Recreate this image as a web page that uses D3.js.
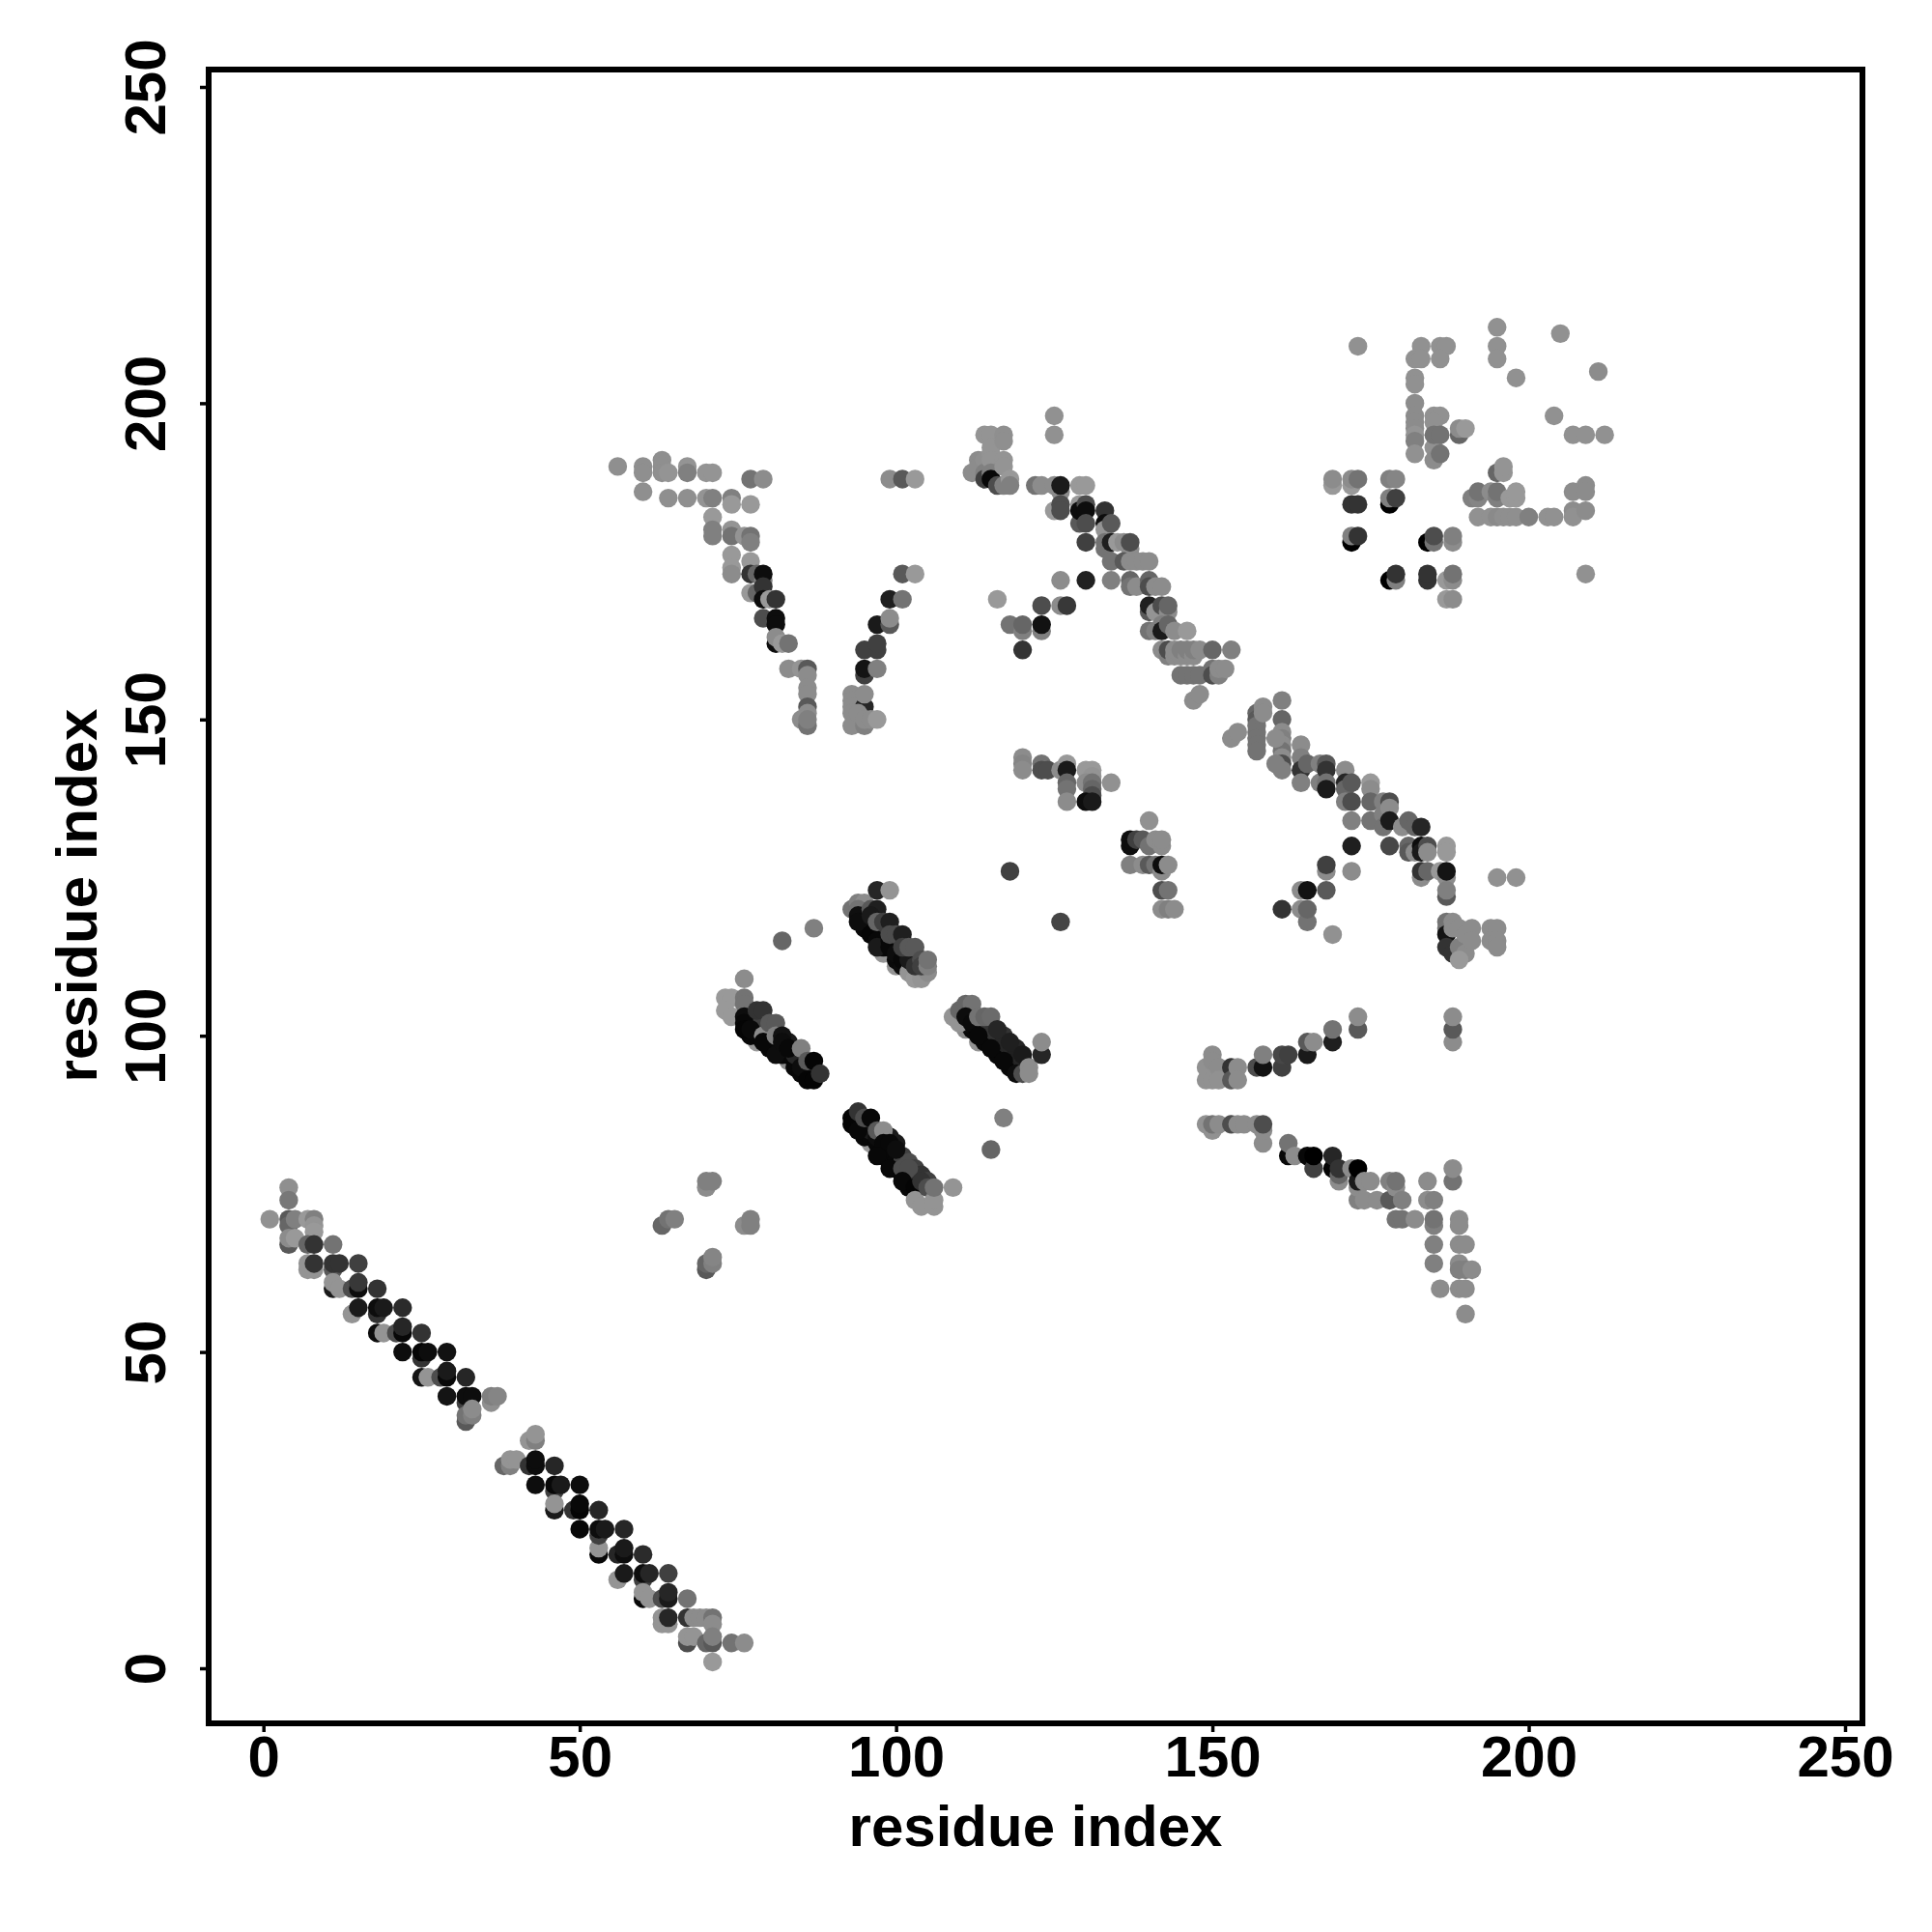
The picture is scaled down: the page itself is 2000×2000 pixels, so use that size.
<!DOCTYPE html>
<html><head><meta charset="utf-8">
<script src="https://cdn.jsdelivr.net/npm/d3@7"></script>
<style>html,body{margin:0;background:#fff}svg{display:block}text{font-family:"Liberation Sans",Arial,sans-serif;font-weight:700;fill:#000}</style>
</head><body><svg id="c" width="2000" height="2000"></svg>
<script>
const xTicks=[0,50,100,150,200,250], yTicks=[0,50,100,150,200,250];
// contact triples: [residue x, residue y, shade 0=black..1=white]
const helixA=[[1,71,.57],[4,76,.56],[4,74,.47],[4,71,.35],[4,70,.4],[4,67,.35],[4,68,.55],[5,71,.5],[5,68,.6],[7,71,.6],[8,71,.5],[8,70,.58],[8,69,.6],[7,67,.4],[8,67,.2],[11,67,.45],[7,64,.58],[7,63,.58],[8,63,.58],[8,64,.2],[11,63,.35],[11,64,.2],[12,64,.2],[15,64,.25],[11,60,.1],[11,61,.58],[12,60,.58],[14,60,.3],[15,60,.05],[15,61,.22],[18,60,.2],[14,56,.58],[15,57,.1],[18,56,.2],[18,57,.05],[19,57,.1],[22,57,.17],[18,53,.05],[19,53,.58],[21,53,.3],[22,53,.03],[22,54,.15],[25,53,.2],[22,50,.05],[25,49,.2],[25,50,.02],[26,50,.05],[29,50,.07],[25,46,.08],[26,46,.58],[28,46,.3],[29,46,.03],[29,47,.1],[32,46,.15],[29,43,.08],[32,42,.25],[32,43,.05],[33,43,.05],[36,42,.56],[36,43,.5],[37,43,.52],[32,39,.35],[32,40,.45],[33,40,.5],[33,41,.55]];
const helixB=[[38,32,.4],[39,32,.5],[39,33,.58],[40,33,.58],[42,36,.58],[43,36,.5],[43,37,.58],[42,32,.2],[43,32,.05],[43,33,.05],[43,29,.05],[46,28,.25],[46,29,.03],[47,29,.1],[46,32,.15],[46,25,.1],[46,26,.58],[49,25,.2],[50,25,.02],[50,26,.03],[50,29,.05],[50,22,.03],[53,25,.15],[53,18,.03],[53,19,.58],[53,21,.25],[53,22,.05],[54,22,.1],[57,22,.15],[56,18,.15],[57,18,.05],[57,19,.1],[60,18,.17],[56,14,.58],[57,15,.1],[60,14,.25],[60,15,.05],[61,15,.15],[64,15,.25],[60,11,.03],[60,12,.58],[61,11,.58],[63,11,.3],[64,11,.1],[64,12,.15],[67,11,.45],[63,7,.58],[63,8,.58],[64,7,.58],[64,8,.15],[67,4,.3],[67,5,.58],[68,5,.58],[67,8,.2],[68,8,.55],[69,8,.55],[70,8,.55],[71,8,.45],[71,7,.55],[70,4,.4],[71,4,.35],[71,5,.5],[74,4,.45],[76,4,.55],[71,1,.6]];
const islets=[[63,70,.4],[64,71,.45],[65,71,.5],[70,76,.55],[70,77,.5],[71,77,.5],[76,70,.55],[77,71,.5],[77,70,.5],[70,63,.35],[70,64,.4],[71,64,.5],[71,65,.52],[82,115,.4],[87,117,.5],[109,76,.58],[115,82,.4],[117,87,.5],[118,126,.25],[126,118,.27]];
const bandUpperCore=[[98,113,.58],[100,111,.58],[95,118,.03],[95,117,.03],[96,118,.03],[97,116,.03],[98,115,.03],[98,114,.03],[100,114,.03],[101,113,.03],[102,111,.05],[100,112,.04],[101,111,.05],[97,117,.2],[98,117,.2],[99,117,.18],[100,115,.2],[101,115,.2],[102,113,.25],[103,113,.25],[103,112,.25]];
const bandUpper=[[93,120,.45],[94,121,.5],[95,121,.55],[94,120,.45],[94,119,.06],[94,118,.05],[96,116,.02],[97,115,.03],[97,114,.1],[99,116,.03],[99,115,.03],[99,114,.03],[100,113,.05],[101,112,.03],[102,110,.58],[103,109,.6],[104,109,.58],[102,112,.1],[103,111,.2],[105,110,.55],[97,123,.15],[99,123,.58],[96,120,.35],[97,120,.12],[96,119,.1],[97,118,.4],[98,118,.25],[99,118,.12],[99,116,.3],[100,116,.3],[101,116,.12],[101,114,.25],[102,114,.35],[103,114,.35],[104,112,.3],[104,111,.25],[105,111,.5],[105,112,.45]];
const bandLeftCore=[[78,99,.6],[83,96,.55],[77,100,.03],[78,100,.03],[78,101,.03],[80,99,.03],[80,98,.03],[81,98,.03],[82,97,.03],[83,97,.03],[84,96,.03],[84,95,.03],[85,94,.03],[86,94,.03],[77,102,.2],[78,102,.25],[79,102,.25],[80,100,.2],[83,99,.1],[84,97,.15],[86,95,.1]];
const bandLeft=[[76,109,.55],[73,106,.6],[74,106,.6],[73,104,.6],[74,103,.6],[76,106,.45],[76,105,.45],[76,103,.05],[76,102,.03],[76,101,.02],[77,101,.04],[78,104,.2],[79,104,.2],[79,100,.55],[79,99,.03],[80,102,.35],[81,102,.35],[81,100,.5],[81,97,.05],[82,100,.07],[82,99,.05],[83,98,.03],[85,98,.5],[85,95,.05],[86,96,.35],[86,93,.02],[87,93,.02],[87,96,.02],[88,94,.2]];
const bandRightCore=[[113,99,.58],[111,101,.55],[112,101,.03],[113,101,.03],[114,100,.03],[114,99,.03],[115,99,.03],[116,98,.03],[116,97,.03],[117,97,.03],[118,96,.03],[118,95,.03],[119,95,.03],[111,102,.05],[112,103,.3],[113,102,.25],[114,102,.25],[115,101,.2],[116,100,.2],[117,100,.2],[117,99,.15],[118,98,.15],[119,98,.15],[119,97,.12],[120,96,.15],[120,95,.15]];
const bandRight=[[109,103,.58],[110,102,.58],[110,104,.4],[111,105,.4],[112,105,.45],[111,103,.05],[112,102,.04],[113,100,.03],[113,103,.45],[114,103,.4],[115,103,.42],[115,98,.03],[116,101,.15],[117,96,.03],[118,99,.12],[119,94,.05],[120,97,.1],[120,94,.3],[121,95,.55],[121,94,.55],[123,97,.15],[123,99,.55]];
const bandLowerCore=[[96,83,.6],[99,80,.55],[94,86,.03],[95,85,.03],[95,84,.03],[96,84,.03],[96,85,.1],[97,83,.03],[97,84,.05],[98,82,.03],[98,81,.03],[99,81,.03],[100,80,.03],[100,79,.03],[101,78,.03],[102,77,.03],[102,76,.03],[98,84,.1],[99,84,.1],[100,83,.1],[101,81,.25],[101,80,.25],[102,80,.3],[103,78,.2],[103,79,.25],[104,78,.2],[105,77,.25]];
const bandLower=[[93,87,.02],[93,86,.02],[94,88,.2],[94,85,.03],[95,87,.3],[96,87,.03],[97,85,.35],[98,85,.55],[98,83,.03],[99,83,.03],[97,81,.03],[100,82,.05],[99,79,.03],[101,79,.3],[102,79,.3],[101,77,.03],[103,76,.02],[103,74,.58],[104,77,.2],[104,73,.58],[105,76,.3],[106,73,.58],[106,74,.58],[106,76,.45]];
const loopV=[[56,190,.56],[60,190,.56],[60,189,.56],[60,186,.56],[63,191,.56],[63,190,.56],[63,189,.56],[64,189,.58],[64,185,.56],[67,190,.58],[67,189,.5],[67,185,.56],[70,189,.58],[71,189,.58],[70,185,.58],[71,185,.5],[74,185,.5],[74,184,.6],[77,188,.45],[79,188,.55],[77,184,.6],[71,182,.6],[71,180,.5],[71,179,.5],[74,180,.58],[74,179,.45],[76,179,.58],[77,179,.45],[77,178,.5],[74,176,.6],[74,174,.6],[74,173,.55],[77,175,.6],[77,173,.2],[78,173,.4],[79,172,.5],[79,173,.05],[77,170,.6],[78,170,.4],[79,171,.2],[79,169,.05],[80,169,.6],[81,169,.2],[79,166,.3],[81,166,.05],[81,165,.05],[81,162,.05],[81,163,.55],[82,162,.6],[83,162,.45],[83,158,.55],[85,158,.58],[86,158,.35],[86,157,.55],[86,155,.55],[86,154,.55],[86,152,.35],[86,151,.55],[85,150,.55],[86,149,.45],[86,150,.5],[99,188,.55],[101,188,.35],[103,188,.6],[101,173,.35],[103,173,.6],[99,169,.12],[101,169,.45],[97,165,.1],[99,165,.35],[99,166,.55],[95,161,.25],[97,161,.25],[97,162,.25],[95,157,.25],[95,158,.08],[97,158,.5],[93,154,.55],[93,153,.55],[93,152,.55],[93,151,.55],[93,149,.55],[95,152,.15],[95,154,.55],[94,151,.55],[95,149,.5],[95,150,.55],[96,150,.55],[97,150,.6]];
const crest=[[112,189,.55],[113,191,.55],[113,190,.55],[114,195,.58],[114,191,.56],[114,189,.5],[114,188,.25],[115,195,.58],[115,193,.58],[115,192,.58],[115,191,.58],[115,189,.5],[115,188,.03],[116,187,.3],[117,195,.56],[117,194,.56],[117,191,.58],[117,190,.58],[117,187,.5],[118,188,.6],[118,187,.5],[122,187,.45],[123,187,.55],[125,198,.57],[125,195,.57],[125,187,.55],[126,186,.55],[126,187,.1],[129,187,.6],[130,187,.6],[125,183,.6],[126,184,.3],[126,183,.3],[129,184,.6],[129,181,.35],[129,183,.05],[130,184,.3],[130,183,.05],[130,181,.3],[130,178,.25],[133,183,.2],[133,181,.05],[133,180,.58],[134,181,.35],[133,178,.45],[133,177,.45],[134,178,.12],[135,178,.6],[136,178,.55],[137,177,.55],[137,178,.3],[134,175,.45],[136,175,.35],[137,175,.55],[138,175,.55],[139,175,.55],[140,175,.55],[126,172,.55],[130,172,.13],[134,172,.5],[137,172,.4],[137,171,.45],[138,171,.55],[140,172,.4],[140,171,.3],[141,171,.55],[142,171,.55],[116,169,.6],[123,168,.3],[126,168,.55],[127,168,.22],[118,165,.45],[120,164,.5],[120,165,.4],[123,164,.5],[123,165,.07],[120,161,.2],[140,167,.35],[140,168,.12],[141,167,.58],[142,168,.3],[143,167,.55],[143,168,.4],[140,164,.45],[141,164,.5],[142,165,.5],[142,164,.1],[143,165,.4],[144,164,.55],[146,164,.6],[142,161,.55],[143,160,.5],[143,161,.3],[144,160,.55],[144,161,.55],[145,160,.55],[145,161,.5],[146,160,.55],[146,161,.5],[147,160,.55],[147,161,.5],[148,161,.55],[150,161,.4],[153,161,.5],[145,157,.45],[146,157,.45],[147,157,.45],[148,157,.45],[150,158,.45],[150,157,.3],[151,157,.5],[151,158,.55],[152,158,.55],[147,153,.55],[148,154,.55],[153,147,.55],[154,148,.55]];
const centre=[[120,144,.55],[120,143,.52],[120,142,.55],[123,143,.45],[123,142,.3],[124,142,.3],[126,142,.55],[127,143,.6],[127,142,.1],[127,140,.4],[127,139,.45],[127,137,.55],[130,142,.6],[131,142,.6],[131,141,.58],[130,140,.55],[131,140,.45],[131,139,.4],[131,138,.3],[130,137,.05],[131,137,.1],[134,140,.57],[140,134,.57],[137,130,.05],[137,131,.05],[138,131,.25],[139,131,.35],[140,130,.45],[141,131,.55],[142,130,.55],[142,131,.55],[137,127,.5],[139,127,.55],[140,127,.35],[141,127,.45],[142,126,.55],[142,127,.05],[143,127,.55],[142,123,.3],[143,123,.45],[142,120,.55],[143,120,.5],[144,120,.55]];
const strandLong=[[157,151,.4],[157,150,.35],[157,149,.45],[157,148,.45],[157,147,.45],[157,146,.45],[157,145,.45],[158,152,.55],[158,151,.55],[161,153,.5],[161,150,.4],[161,148,.55],[161,147,.5],[161,146,.55],[161,145,.45],[161,144,.55],[161,143,.3],[161,142,.5],[160,147,.55],[160,143,.5],[164,146,.55],[164,144,.5],[164,142,.2],[164,140,.5],[165,143,.4],[167,143,.5],[167,140,.5],[168,143,.35],[168,142,.2],[168,140,.45],[168,139,.1],[171,142,.55],[171,140,.15],[171,139,.4],[171,137,.5],[172,140,.35],[172,137,.3],[172,134,.5],[172,130,.12],[172,126,.55],[175,140,.6],[175,139,.55],[175,137,.4],[175,134,.45],[177,137,.5],[177,135,.5],[177,133,.45],[178,137,.3],[178,136,.55],[178,134,.1],[178,130,.28],[180,133,.55],[181,134,.4],[181,130,.4],[181,129,.35],[182,133,.4],[182,129,.55],[183,133,.15],[183,130,.05],[183,129,.1],[184,130,.3],[184,129,.55],[183,125,.55],[183,126,.2],[184,126,.4],[186,126,.6],[187,130,.6],[187,129,.6],[187,125,.55],[187,126,.08],[187,122,.35],[187,123,.5],[195,125,.57],[198,125,.57],[168,126,.55],[168,127,.25],[164,123,.55],[165,123,.07],[168,123,.35],[161,120,.2],[164,120,.55],[165,118,.45],[165,120,.4],[169,116,.57]];
const blob=[[187,118,.45],[187,117,.45],[187,116,.08],[187,114,.2],[188,113,.2],[188,118,.55],[188,117,.55],[189,117,.55],[189,114,.5],[190,116,.55],[190,113,.55],[189,112,.6],[191,117,.55],[191,115,.55],[194,117,.55],[195,117,.55],[194,115,.55],[195,115,.55],[195,114,.55]];
const cornerCluster=[[173,209,.57],[183,209,.57],[186,209,.57],[187,209,.57],[182,207,.57],[183,207,.57],[186,207,.57],[182,204,.57],[182,203,.57],[182,200,.55],[182,198,.55],[182,197,.55],[182,196,.55],[182,195,.58],[182,194,.5],[182,192,.57],[185,198,.57],[186,198,.57],[185,197,.57],[185,193,.57],[185,191,.55],[185,195,.45],[186,195,.45],[186,192,.45],[189,195,.4],[189,196,.55],[190,196,.6],[195,212,.57],[195,209,.57],[195,207,.57],[198,204,.57],[205,211,.57],[211,205,.55],[204,198,.57],[207,195,.57],[209,195,.57],[212,195,.57],[195,189,.4],[196,189,.58],[196,190,.58],[169,187,.6],[169,188,.55],[172,187,.6],[172,188,.55],[173,188,.45],[178,188,.5],[179,188,.52],[178,184,.0],[178,185,.5],[179,185,.25],[172,184,.2],[173,184,.2],[172,178,.0],[172,179,.5],[173,179,.2],[184,178,.0],[185,178,.45],[185,179,.3],[188,178,.55],[188,179,.5],[178,172,.0],[179,172,.5],[179,173,.2],[184,172,.2],[184,173,.2],[187,172,.6],[188,172,.55],[188,173,.45],[187,169,.6],[188,169,.55],[209,173,.57],[191,185,.5],[192,185,.52],[192,186,.45],[194,186,.55],[195,185,.5],[195,186,.45],[197,185,.6],[198,185,.6],[198,186,.6],[207,186,.55],[209,187,.55],[209,186,.55],[192,182,.57],[194,182,.57],[195,182,.54],[196,182,.56],[197,182,.56],[198,182,.56],[200,182,.5],[203,182,.57],[204,182,.57],[207,183,.55],[207,182,.57],[209,183,.55]];
const armUpper=[[149,93,.57],[149,95,.57],[150,97,.55],[150,96,.55],[150,93,.57],[151,95,.55],[151,93,.57],[153,95,.2],[153,93,.35],[154,95,.55],[154,93,.55],[157,95,.3],[158,95,.07],[158,97,.5],[161,95,.25],[161,97,.28],[162,97,.25],[165,97,.1],[165,99,.35],[166,99,.55],[169,99,.12],[169,101,.45],[173,101,.35],[173,103,.55],[188,99,.55],[188,101,.35],[188,103,.55]];
const armLower=[[149,86,.57],[150,85,.57],[150,86,.45],[151,86,.55],[153,86,.3],[154,86,.55],[155,86,.55],[157,86,.55],[158,83,.55],[158,85,.55],[158,86,.3],[162,81,.03],[162,83,.45],[163,81,.55],[165,81,.03],[166,79,.25],[166,81,.0],[169,79,.02],[169,81,.15],[170,77,.55],[170,78,.4],[170,79,.2],[172,79,.55],[173,74,.5],[173,76,.55],[173,77,.1],[173,79,.0],[174,74,.55],[174,77,.55],[175,77,.55],[176,74,.55],[178,74,.35],[178,77,.5],[179,76,.55],[179,77,.45],[179,71,.45],[180,71,.45],[180,74,.5],[182,71,.55],[184,77,.55],[184,74,.55],[185,74,.5],[185,70,.5],[185,71,.45],[185,67,.5],[185,64,.5],[188,77,.45],[188,79,.55],[189,71,.55],[189,70,.55],[189,67,.55],[190,67,.55],[189,64,.55],[189,63,.5],[190,63,.5],[191,63,.55],[186,60,.55],[189,60,.55],[190,60,.55],[190,56,.55]];
const contacts=[...helixA,...helixB,...islets,...bandUpperCore,...bandUpper,...bandLeftCore,...bandLeft,...bandRightCore,...bandRight,...bandLowerCore,...bandLower,...loopV,...crest,...centre,...strandLong,...blob,...cornerCluster,...armUpper,...armLower];

const svg=d3.select("#c");
const x=d3.scaleLinear().domain([0,250]).range([272.7,1910]);
const y=d3.scaleLinear().domain([0,250]).range([1727,90]);
const grey=d3.scaleLinear().domain([0,1]).range(["#000","#fff"]);

svg.append("g").selectAll("circle").data(contacts).join("circle")
  .attr("cx",d=>x(d[0])).attr("cy",d=>y(d[1])).attr("r",9.7).attr("fill",d=>grey(d[2]));

svg.append("rect").attr("x",216).attr("y",72).attr("width",1712).attr("height",1712)
  .attr("fill","none").attr("stroke","#000").attr("stroke-width",6);

const ax=svg.append("g").attr("transform","translate(0,1784)")
  .call(d3.axisBottom(x).tickValues(xTicks).tickSize(9).tickPadding(8).tickSizeOuter(0));
ax.select(".domain").remove();
ax.selectAll("line").attr("stroke","#000").attr("stroke-width",3.5);
ax.selectAll("text").attr("font-size",60).attr("dy",null).attr("y",0)
  .attr("transform","translate(0,55)");

const ay=svg.append("g").attr("transform","translate(216,0)")
  .call(d3.axisLeft(y).tickValues(yTicks).tickSize(9).tickSizeOuter(0));
ay.select(".domain").remove();
ay.selectAll("line").attr("stroke","#000").attr("stroke-width",3.5);
ay.selectAll("text").attr("font-size",60).attr("x",0).attr("dy",null)
  .attr("text-anchor","middle").attr("transform","translate(-45,0) rotate(-90)");

svg.append("text").attr("x",1072).attr("y",1911).attr("text-anchor","middle").attr("font-size",60).text("residue index");
svg.append("text").attr("transform","translate(100,927) rotate(-90)").attr("text-anchor","middle").attr("font-size",60).text("residue index");
</script></body></html>
